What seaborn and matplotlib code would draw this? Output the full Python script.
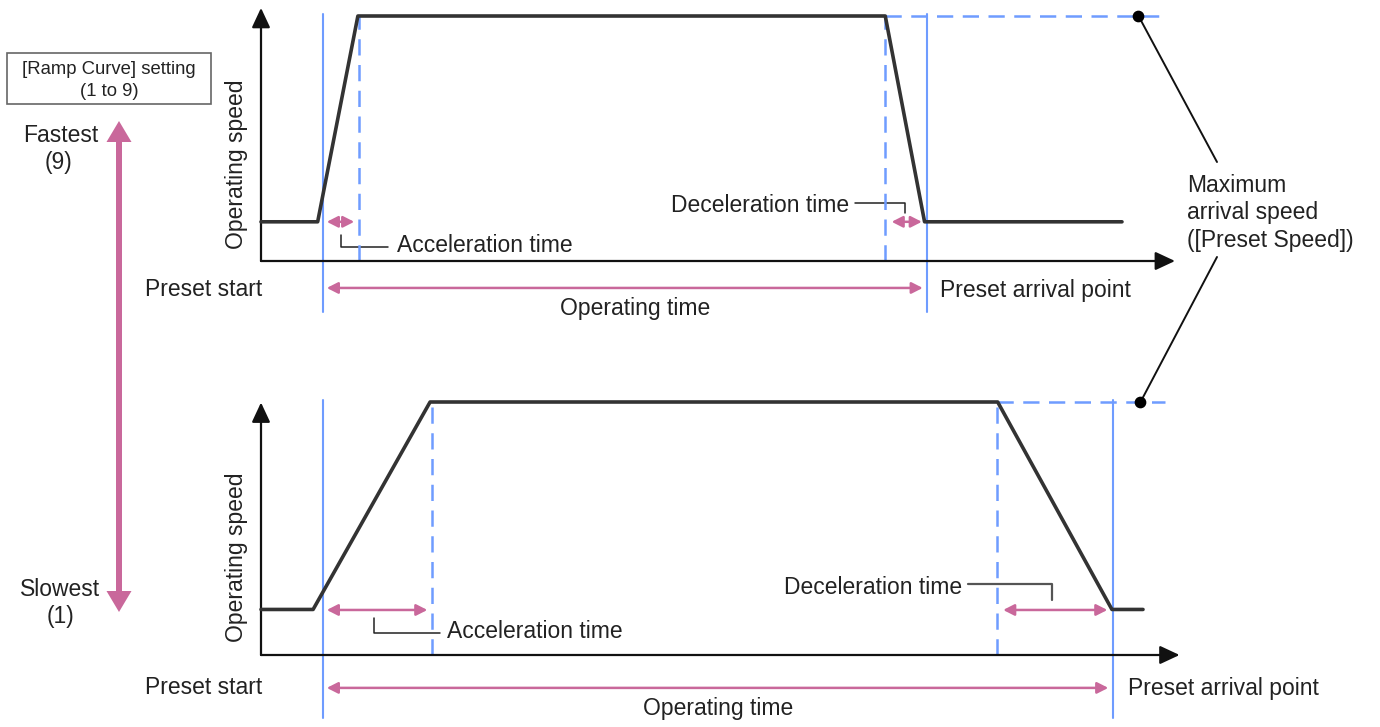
import matplotlib
matplotlib.use("Agg")
import matplotlib.pyplot as plt
import seaborn as sns
import numpy as np

# ---------------- data (time in % of axis length, speed in % of preset speed) ----
top_time = [0, 6.2, 10.6, 68.3, 72.6, 94.2]
top_speed = [16, 16, 100, 100, 16, 16]
top_marks = {"start": 6.8, "accel_end": 10.7, "decel_start": 68.3, "arrival": 72.9}

bot_time = [0, 5.7, 18.5, 80.6, 93.1, 96.5]
bot_speed = [18, 18, 100, 100, 18, 18]
bot_marks = {"start": 6.8, "accel_end": 18.7, "decel_start": 80.5, "arrival": 93.2}

max_speed = 100
dot_time = [96.0, 96.2]
texts = {
    "box": "[Ramp Curve] setting\n(1 to 9)",
    "fast": ["Fastest", "(9)"],
    "slow": ["Slowest", "(1)"],
    "ylabel": "Operating speed",
    "start": "Preset start",
    "arrival": "Preset arrival point",
    "optime": "Operating time",
    "acc": "Acceleration time",
    "dec": "Deceleration time",
    "maxspeed": ["Maximum", "arrival speed", "([Preset Speed])"],
}

# ---------------- style ----------------
sns.set_theme(style="white")
plt.rcParams["font.family"] = ["Liberation Sans", "DejaVu Sans"]

BLUE = "#6f9cff"
MAG = "#c9689b"
BLK = "#333333"
TXT = "#222222"
FS = 16.5

W, H = 1380, 727
fig = plt.figure(figsize=(W / 100, H / 100), dpi=100)
fig.patch.set_facecolor("white")

# pixel background axes for layout annotations
axp = fig.add_axes([0, 0, 1, 1])
axp.set_xlim(0, W)
axp.set_ylim(H, 0)
axp.axis("off")


def panel_axes(x0px, y0px, pxx, pxy):
    ax = fig.add_axes([0, 0, 1, 1])
    ax.set_xlim(-x0px / pxx, (W - x0px) / pxx)
    ax.set_ylim((y0px - H) / pxy, y0px / pxy)
    ax.axis("off")
    ax.patch.set_alpha(0)
    return ax


axt = panel_axes(261, 261, 9.14, 2.45)
axb = panel_axes(261, 655, 9.14, 2.53)


def draw_panel(ax, t, v, marks, xend, ytop, low_lim, opt_v, acc_v, dec_v, dash_end):
    # axes arrows
    arr = dict(arrowstyle="-|>,head_length=0.6,head_width=0.28", color="#111111",
               lw=1.6, mutation_scale=20, shrinkA=0, shrinkB=0)
    ax.annotate("", xy=(xend, 0), xytext=(0, 0), arrowprops=arr)
    ax.annotate("", xy=(0, ytop), xytext=(0, 0), arrowprops=arr)
    # blue reference lines
    for key in ("start", "arrival"):
        ax.plot([marks[key]] * 2, [low_lim, 100.8], color=BLUE, lw=1.5, zorder=2)
    for key in ("accel_end", "decel_start"):
        ax.plot([marks[key]] * 2, [0, max_speed], color=BLUE, lw=1.8,
                dashes=(6.5, 3.8), zorder=2)
    ax.plot([marks["decel_start"], dash_end], [max_speed, max_speed], color=BLUE,
            lw=1.8, dashes=(6.5, 3.8), zorder=2)
    # speed profile
    sns.lineplot(x=t, y=v, ax=ax, color=BLK, lw=2.6, legend=False, zorder=4)
    # magenta arrows
    marr = dict(arrowstyle="<|-|>,head_length=0.55,head_width=0.28", color=MAG,
                lw=1.8, mutation_scale=12, shrinkA=0, shrinkB=0)
    ax.annotate("", xy=(marks["arrival"] - 0.5, opt_v),
                xytext=(marks["start"] + 0.4, opt_v), arrowprops=marr)
    ax.annotate("", xy=(marks["accel_end"] - 0.5, acc_v),
                xytext=(marks["start"] + 0.4, acc_v), arrowprops=marr)
    ax.annotate("", xy=(marks["arrival"] - 0.6, dec_v),
                xytext=(marks["decel_start"] + 0.7, dec_v), arrowprops=marr)


draw_panel(axt, top_time, top_speed, top_marks, 100.0, 103.3, -20.8, -11.0,
           16.0, 16.0, 98.9)
draw_panel(axb, bot_time, bot_speed, bot_marks, 100.5, 99.8, -24.9, -13.0,
           17.8, 17.8, 98.9)

# dots at max speed
axt.scatter([dot_time[0]], [max_speed], s=55, color="black", zorder=6)
axb.scatter([dot_time[1]], [max_speed], s=55, color="black", zorder=6)

# ---------------- layout annotations (pixel axes) ----------------
def txt(x, y, s, ha="center", **kw):
    axp.text(x, y, s, ha=ha, va="center", fontsize=kw.pop("fs", FS), color=TXT, **kw)

# box
axp.add_patch(plt.Rectangle((7, 53), 204, 51, fill=False, ec="#666666", lw=1.2))
txt(109, 69, texts["box"].split("\n")[0], fs=13.3)
txt(109, 91, texts["box"].split("\n")[1], fs=13.3)

# big vertical arrow
for tip in (121, 612):
    mid = 366
    axp.add_patch(matplotlib.patches.FancyArrow(119, mid, 0, tip - mid, width=6,
                  head_width=25, head_length=21, length_includes_head=True,
                  color=MAG, lw=0))

txt(61, 136, texts["fast"][0])
txt(59, 163, texts["fast"][1])
txt(60, 590, texts["slow"][0])
txt(61, 617, texts["slow"][1])

# y labels
txt(237, 164, texts["ylabel"], rotation=90)
txt(237, 557, texts["ylabel"], rotation=90)

# preset start / arrival
txt(262, 290, texts["start"], ha="right")
txt(262, 688, texts["start"], ha="right")
txt(940, 290, texts["arrival"], ha="left")
txt(1128, 688, texts["arrival"], ha="left")

# operating time
txt(635, 308, texts["optime"])
txt(718, 708, texts["optime"])

# acceleration leaders
LC = "#222222"
axp.plot([341, 341, 388], [235, 247, 247], color=LC, lw=1.1)
txt(397, 246, texts["acc"], ha="left")
axp.plot([374, 374, 440], [618, 633, 633], color=LC, lw=1.1)
txt(447, 632, texts["acc"], ha="left")

# deceleration leaders
axp.plot([855, 905, 905], [203, 203, 213], color=LC, lw=1.1)
txt(849, 205, texts["dec"], ha="right")
axp.plot([968, 1052, 1052], [584, 584, 600], color="#555555", lw=1.6)
txt(962, 587, texts["dec"], ha="right")

# maximum arrival speed
for i, s in enumerate(texts["maxspeed"]):
    txt(1187, 185 + 27.5 * i, s, ha="left")
axp.plot([1138, 1217], [15, 162], color="#111111", lw=1.4)
axp.plot([1217, 1140], [257, 403], color="#111111", lw=1.4)

fig.savefig("out.png", dpi=100)
